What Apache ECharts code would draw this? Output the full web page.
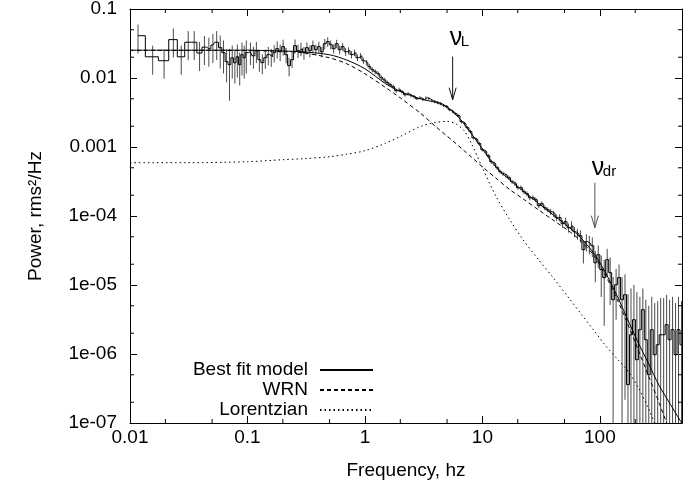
<!DOCTYPE html>
<html><head><meta charset="utf-8">
<script src="https://cdn.jsdelivr.net/npm/echarts@6/dist/echarts.min.js"></script>
<style>html,body{margin:0;padding:0;background:#fff}#c{width:700px;height:489px}</style>
</head><body><div id="c"></div>
<script>
const FONT = '"Liberation Sans", Arial, Helvetica, sans-serif';

const xTickLabels = ['0.01','0.1','1','10','100'];
const yTickLabels = ['1e-07','1e-06','1e-05','1e-04','0.001','0.01','0.1'];
const xMinorTicks = [0.02,0.05,0.2,0.5,2,5,20,50,200];
const yMinorTicks = [2e-7,5e-7,2e-6,5e-6,2e-5,5e-5,2e-4,5e-4,0.002,0.005,0.02,0.05];

// measured power spectrum (bin frequency, power, relative 1-sigma error)
const freq = [0.0117,0.0156,0.0195,0.0234,0.0273,0.0313,0.0352,0.0391,0.043,0.0469,0.0508,0.0547,0.0586,0.0625,0.0664,0.0703,0.0742,0.0781,0.082,0.0859,0.0898,0.0938,0.0977,
0.106,0.1124,0.1191,0.1262,0.1338,0.1419,0.1504,0.1594,0.1689,0.1791,
0.1898,0.2012,0.2133,0.2261,0.2397,0.254,0.2693,0.2854,0.3026,0.3207,
0.34,0.3604,0.382,0.4049,0.4292,0.4549,0.4822,0.5112,0.5418,0.5743,
0.6088,0.6453,0.6841,0.7251,0.7686,0.8147,0.8636,0.9154,0.9704,1.029,
1.09,1.156,1.225,1.299,1.377,1.459,1.547,1.639,1.738,1.842,
1.953,2.07,2.194,2.326,2.465,2.613,2.77,2.936,3.112,3.299,
3.497,3.707,3.929,4.165,4.415,4.679,4.96,5.258,5.573,5.908,
6.262,6.638,7.036,7.458,7.906,8.38,8.883,9.416,9.981,10.58,
11.21,11.89,12.6,13.36,14.16,15.01,15.91,16.86,17.87,18.95,
20.08,21.29,22.57,23.92,25.35,26.88,28.49,30.2,32.01,33.93,
35.97,38.12,40.41,42.84,45.41,48.13,51.02,54.08,57.32,60.76,
64.41,68.27,72.37,76.71,81.32,86.19,91.37,96.85,102.7,108.8,
115.4,122.3,129.6,137.4,145.6,154.4,163.6,173.4,183.9,194.9,
206.6,219,232.1,246,260.8,276.4,293,310.6,329.2,349,
369.9,392.1,415.7,440.6,467,495];

const power = [0.041,0.0203,0.0178,0.036,0.0203,0.033,0.033,0.023,0.028,0.0265,0.030,0.033,0.0275,0.0233,0.0173,0.0156,0.0196,0.0166,0.0203,0.0156,0.0218,0.0196,0.0233,
0.024,0.021,0.0249,0.0184,0.0167,0.0197,0.0218,0.0204,0.0233,0.0266,
0.024,0.0285,0.0218,0.0151,0.0184,0.0294,0.0249,0.0266,0.0233,0.0275,
0.0249,0.0294,0.0257,0.0285,0.024,0.0314,0.0336,0.0304,0.0266,0.0314,
0.0257,0.0285,0.024,0.0249,0.0218,0.0233,0.0197,0.021,0.0178,0.0167,
0.0146,0.0132,0.0123,0.0115,0.0101,0.0094,0.0086,0.008,0.00748,0.00655,
0.00677,0.00633,0.00573,0.00592,0.00554,0.00536,0.00501,0.00518,0.00485,0.00518,
0.00501,0.00469,0.00453,0.00439,0.00424,0.00397,0.00384,0.00347,0.00325,0.00304,
0.00284,0.00233,0.00218,0.0019,0.00167,0.00136,0.00128,0.00112,9.14e-4,8.55e-4,
7.48e-4,6.12e-4,5.73e-4,5.01e-4,4.39e-4,4.1e-4,3.84e-4,3.59e-4,3.14e-4,2.94e-4,
2.57e-4,2.57e-4,2.25e-4,2.1e-4,1.84e-4,1.84e-4,1.72e-4,1.41e-4,1.51e-4,1.32e-4,
1.23e-4,1.15e-4,1.08e-4,9.45e-5,9.45e-5,7.73e-5,8.27e-5,6.77e-5,7.23e-5,5.92e-5,
5.54e-5,5.18e-5,3.25e-5,4.24e-5,3.97e-5,3.71e-5,2.1e-5,2.75e-5,1.67e-5,1.28e-5,
2.33e-5,1.51e-5,6.12e-6,1.01e-5,1.28e-5,6.12e-6,7.23e-6,3.59e-7,1.9e-6,3.14e-6,
8.27e-7,2.25e-6,4.39e-6,1.61e-6,5.01e-7,2.25e-6,9.77e-7,1.36e-6,1.9e-6,1.9e-6,
2.66e-6,1.61e-6,2.25e-6,9.77e-7,2.25e-6,1.36e-6];

const relErr = [0.45,0.45,0.45,0.45,0.45,0.45,0.45,0.45,0.45,0.45,0.45,0.45,0.5,0.5,0.5,0.7,0.5,0.5,0.5,0.5,0.5,0.5,0.5,
0.36,0.35,0.34,0.33,0.32,0.31,0.3,0.29,0.28,0.28,
0.27,0.26,0.25,0.3,0.24,0.23,0.22,0.22,0.21,0.2,
0.2,0.19,0.18,0.18,0.17,0.17,0.16,0.15,0.15,0.14,
0.14,0.13,0.13,0.12,0.12,0.11,0.11,0.1,0.1,0.09,
0.09,0.08,0.08,0.08,0.08,0.08,0.07,0.07,0.07,0.07,
0.07,0.06,0.06,0.06,0.06,0.06,0.05,0.05,0.05,0.05,
0.05,0.05,0.05,0.05,0.05,0.05,0.05,0.05,0.05,0.05,
0.05,0.06,0.06,0.06,0.06,0.06,0.06,0.06,0.06,0.06,
0.06,0.07,0.07,0.07,0.07,0.07,0.07,0.07,0.07,0.07,
0.07,0.08,0.08,0.08,0.08,0.08,0.08,0.08,0.08,0.08,
0.08,0.1,0.1,0.11,0.12,0.13,0.14,0.15,0.16,0.17,
0.18,0.2,0.37,0.28,0.3,0.32,0.48,0.36,0.6,0.8,
0.43,0.66,1.14,0.69,0.55,1.14,0.97,19.5,3.7,2.2,
8.5,2.0,1.03,2.8,9,2.0,4.6,3.3,2.4,2.4,
1.7,2.8,2.0,4.6,2.0,3.3];

// model curves
const modelFreq = [0.01,0.03,0.1,0.2,0.3,0.5,0.7,1,1.5,2,3,4,5,6,7,8,10,13,17,22,30,40,55,70,90,110,140,170,210,260,320,400,500];
const bestFit = [0.0253,0.0253,0.0253,0.0246,0.0239,0.0217,0.0182,0.0136,0.00827,0.00639,0.00496,0.00443,0.00375,0.0029,0.00214,0.00159,9.35e-4,5.15e-4,3.35e-4,2.33e-4,1.53e-4,1.04e-4,6.79e-5,4.67e-5,2.79e-5,1.58e-5,6.97e-6,3.33e-6,1.51e-6,7.21e-7,3.47e-7,1.84e-7,9.8e-8];
const wrn = [0.0252,0.0251,0.025,0.0242,0.0231,0.0196,0.0161,0.0115,0.00726,0.00515,0.00304,0.00198,0.00144,0.00111,8.81e-4,7.23e-4,5.16e-4,3.55e-4,2.43e-4,1.79e-4,1.23e-4,8.72e-5,5.98e-5,4.24e-5,2.59e-5,1.45e-5,6.22e-6,2.91e-6,1.19e-6,4.77e-7,1.94e-7,7.0e-8,2.6e-8];
const lorentzian = [5.92e-4,5.92e-4,6.12e-4,6.55e-4,6.77e-4,7.23e-4,7.86e-4,8.84e-4,1.135e-3,1.42e-3,2.0e-3,2.27e-3,2.35e-3,2.14e-3,1.72e-3,1.155e-3,5.01e-4,1.94e-4,8.98e-5,4.61e-5,2.33e-5,1.28e-5,6.33e-6,3.71e-6,2.14e-6,1.37e-6,8.55e-7,5.92e-7,3.36e-7,1.61e-7,6.8e-8,2.7e-8,1.1e-8];

// annotation arrows
const arrowFreq = [5.58, 90.6];
const arrowTail = [0.0204, 3.04e-4];
const arrowTip = [0.00485, 6.77e-5];
const arrowLabelBase = [0.0284, 3.71e-4];
const arrowSub = ['L', 'dr'];
const arrowColor = ['#111', '#555'];

const pairs = (xs, ys) => xs.map((x, i) => [x, ys[i]]);
const labelStyle = {color: '#000', fontSize: 19, fontFamily: FONT};

const chart = echarts.init(document.getElementById('c'), null, {renderer: 'canvas'});

const baseX = {
  type: 'log', logBase: 10, min: 0.01, max: 500,
  axisLine: {show: true, onZero: false, lineStyle: {color: '#000', width: 1}},
  axisTick: {show: true, inside: true, length: 7, lineStyle: {color: '#000', width: 1}},
  splitLine: {show: false}, minorTick: {show: false}
};
const baseY = {
  type: 'log', logBase: 10, min: 1e-7, max: 0.1,
  axisLine: {show: true, onZero: false, lineStyle: {color: '#000', width: 1}},
  axisTick: {show: true, inside: true, length: 7, lineStyle: {color: '#000', width: 1}},
  splitLine: {show: false}, minorTick: {show: false}
};

const option = {
  backgroundColor: '#fff',
  animation: false,
  grid: {left: 130, right: 18, top: 9, bottom: 66, outerBoundsMode: 'none', containLabel: false},
  legend: {
    data: ['Best fit model', 'WRN', 'Lorentzian'],
    orient: 'vertical', align: 'right', right: 321, top: 355,
    itemWidth: 53, itemHeight: 14, itemGap: 0,
    selectedMode: false,
    itemStyle: {opacity: 0},
    textStyle: {color: '#000', fontSize: 19, fontFamily: FONT, lineHeight: 20, padding: [0, 7, 0, 0]}
  },
  xAxis: [
    Object.assign({}, baseX, {
      position: 'bottom',
      axisLabel: Object.assign({}, labelStyle, {
        margin: 5, showMaxLabel: false,
        formatter: v => xTickLabels[Math.round(Math.log10(v)) + 2] || ''
      }),
      name: 'Frequency, hz', nameLocation: 'middle', nameGap: 38,
      nameTextStyle: labelStyle
    }),
    Object.assign({}, baseX, {position: 'top', axisLabel: {show: false}})
  ],
  yAxis: [
    Object.assign({}, baseY, {
      position: 'left',
      axisLabel: Object.assign({}, labelStyle, {
        margin: 13,
        formatter: v => yTickLabels[Math.round(Math.log10(v)) + 7] || ''
      }),
      name: 'Power, rms\u00b2/Hz', nameLocation: 'middle', nameGap: 85,
      nameTextStyle: labelStyle
    }),
    Object.assign({}, baseY, {position: 'right', axisLabel: {show: false}})
  ],
  series: [
    {
      name: 'errors', type: 'custom', clip: true, silent: true, z: 1,
      data: freq.map((f, i) => [f, power[i], relErr[i]]),
      renderItem: (params, api) => {
        const f = api.value(0), p = api.value(1), r = api.value(2);
        const cs = params.coordSys;
        const top = api.coord([f, p * (1 + r)]);
        const lo = p * (1 - r);
        const yb = lo > 0 ? api.coord([f, lo])[1] : cs.y + cs.height + 2;
        return {type: 'line', shape: {x1: top[0], y1: top[1], x2: top[0], y2: yb},
          style: {stroke: '#4a4a4a', lineWidth: 1}};
      }
    },
    {
      name: 'data', type: 'line', step: 'middle', symbol: 'none', silent: true, z: 2,
      data: pairs(freq, power),
      lineStyle: {color: '#000', width: 1}
    },
    {
      name: 'Best fit model', type: 'line', symbol: 'none', silent: true, z: 3,
      data: pairs(modelFreq, bestFit), smooth: 0.3,
      lineStyle: {color: '#000', width: 1, type: 'solid'}, itemStyle: {color: '#000'}
    },
    {
      name: 'WRN', type: 'line', symbol: 'none', silent: true, z: 3,
      data: pairs(modelFreq, wrn), smooth: 0.3,
      lineStyle: {color: '#000', width: 1, type: [4, 3]}, itemStyle: {color: '#000'}
    },
    {
      name: 'Lorentzian', type: 'line', symbol: 'none', silent: true, z: 3,
      data: pairs(modelFreq, lorentzian), smooth: 0.3,
      lineStyle: {color: '#000', width: 1, type: [1.5, 3]}, itemStyle: {color: '#000'}
    },
    {
      name: 'xminor', type: 'custom', silent: true, clip: false, z: 5,
      data: xMinorTicks.map(v => [v, 1e-3]),
      renderItem: (params, api) => {
        const x = api.coord([api.value(0), 1e-3])[0];
        const cs = params.coordSys;
        const yb = cs.y + cs.height;
        return {type: 'group', children: [
          {type: 'line', shape: {x1: x, y1: yb, x2: x, y2: yb - 4}, style: {stroke: '#000', lineWidth: 1}},
          {type: 'line', shape: {x1: x, y1: cs.y, x2: x, y2: cs.y + 4}, style: {stroke: '#000', lineWidth: 1}}
        ]};
      }
    },
    {
      name: 'yminor', type: 'custom', silent: true, clip: false, z: 5,
      data: yMinorTicks.map(v => [1, v]),
      renderItem: (params, api) => {
        const y = api.coord([1, api.value(1)])[1];
        const cs = params.coordSys;
        const xr = cs.x + cs.width;
        return {type: 'group', children: [
          {type: 'line', shape: {x1: cs.x, y1: y, x2: cs.x + 4, y2: y}, style: {stroke: '#000', lineWidth: 1}},
          {type: 'line', shape: {x1: xr, y1: y, x2: xr - 4, y2: y}, style: {stroke: '#000', lineWidth: 1}}
        ]};
      }
    },
    {
      name: 'arrows', type: 'custom', silent: true, clip: false, z: 6,
      data: arrowFreq.map((f, i) => [f, arrowTail[i], arrowTip[i], arrowLabelBase[i]]),
      renderItem: (params, api) => {
        const i = params.dataIndex;
        const f = api.value(0);
        const a = api.coord([f, api.value(1)]);
        const b = api.coord([f, api.value(2)]);
        const c = api.coord([f, api.value(3)]);
        const col = arrowColor[i];
        return {type: 'group', children: [
          {type: 'line', shape: {x1: a[0], y1: a[1], x2: b[0], y2: b[1]}, style: {stroke: col, lineWidth: 1}},
          {type: 'polyline', shape: {points: [[b[0] - 3.5, b[1] - 12], [b[0], b[1]], [b[0] + 3.5, b[1] - 12]]},
            style: {stroke: col, fill: null, lineWidth: 1}},
          {type: 'text', x: b[0] - 3, y: c[1] + 4,
            style: {text: '\u03bd', fontSize: 25, fontFamily: FONT, fill: '#000', align: 'left', verticalAlign: 'bottom'}},
          {type: 'text', x: b[0] + 8, y: c[1] + 3,
            style: {text: arrowSub[i], fontSize: 15, fontFamily: FONT, fill: '#000', align: 'left', verticalAlign: 'bottom'}}
        ]};
      }
    }
  ]
};
chart.setOption(option);
</script>
</body></html>
